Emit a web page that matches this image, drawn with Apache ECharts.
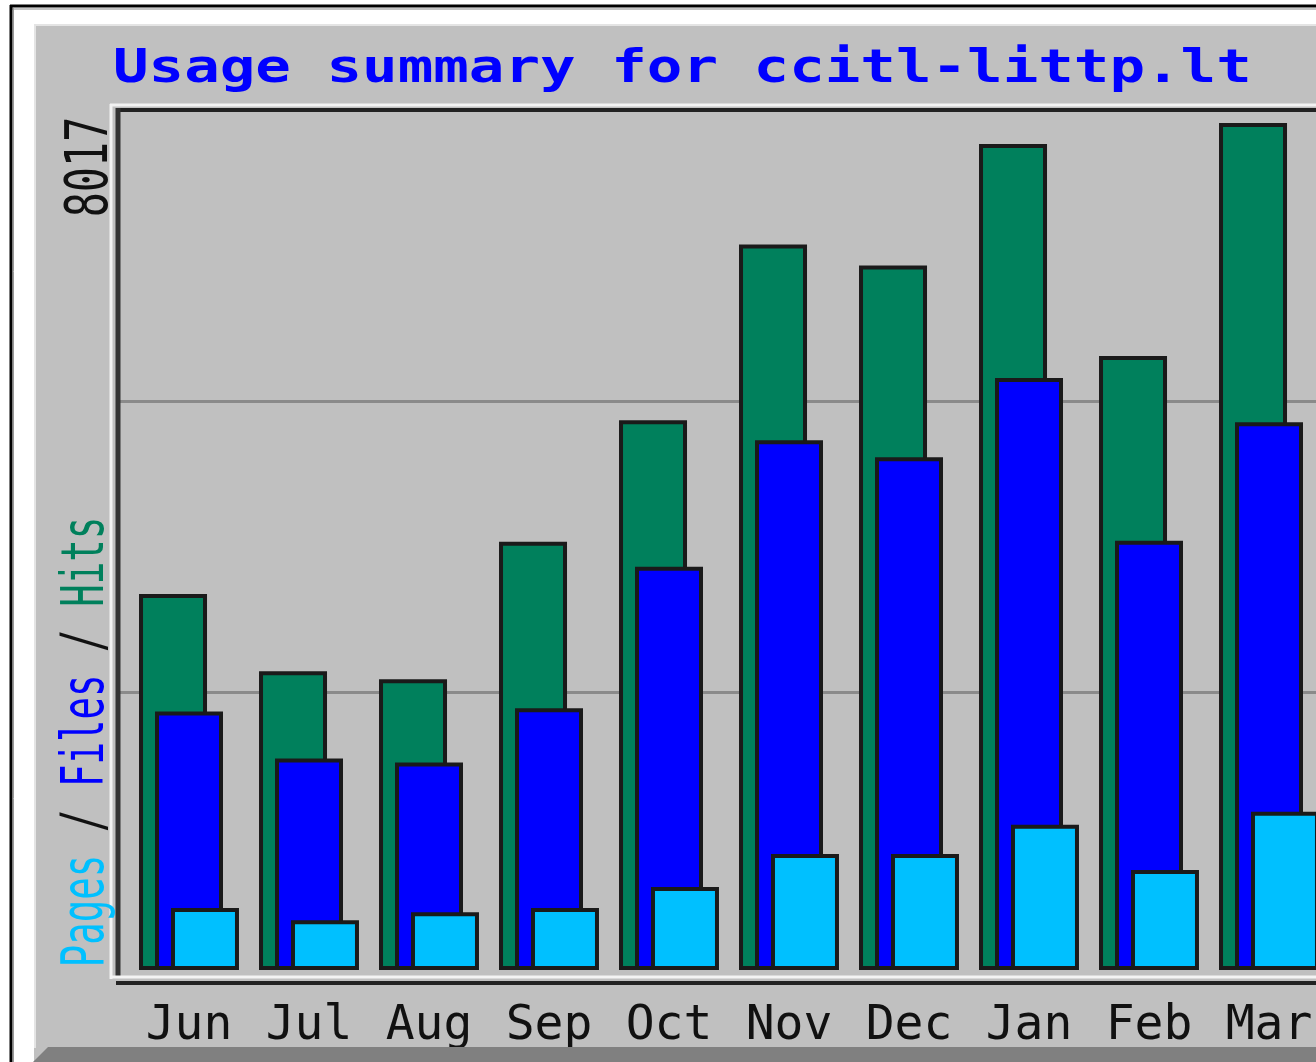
<!DOCTYPE html>
<html lang="en">
<head>
<meta charset="UTF-8">
<title>Usage summary for ccitl-littp.lt</title>
<script src="https://cdn.jsdelivr.net/npm/echarts@6/dist/echarts.min.js"></script>
<style>
    html, body { margin: 0; padding: 0; background: #fff; }
    #chart { width: 1316px; height: 1062px; }
</style>
</head>
<body>
<div id="chart"></div>
<script>
    // monthly values
    var months = ['Jun', 'Jul', 'Aug', 'Sep', 'Oct', 'Nov', 'Dec', 'Jan', 'Feb', 'Mar'];
    var hits = [3559, 2827, 2751, 4053, 5203, 6867, 6667, 7817, 5812, 8017];
    var files = [2447, 2001, 1963, 2476, 3816, 5013, 4852, 5603, 4063, 5184];
    var pages = [585, 470, 546, 585, 784, 1098, 1098, 1373, 946, 1497];
    var titleText = 'Usage summary for ccitl-littp.lt';

    var hitsColor = '#00805c', filesColor = '#0000ff', pagesColor = '#00c0ff';
    var mono = '"DejaVu Sans Mono", "Liberation Mono", monospace';
    var maxHits = Math.max.apply(null, hits);

    function hline(y, x1, x2, w, c) {
        return {type: 'line', z: 100, silent: true,
            shape: {x1: x1, y1: y, x2: x2, y2: y}, style: {stroke: c, lineWidth: w}};
    }
    function vline(x, y1, y2, w, c) {
        return {type: 'line', z: 100, silent: true,
            shape: {x1: x, y1: y1, x2: x, y2: y2}, style: {stroke: c, lineWidth: w}};
    }

    var chart = echarts.init(document.getElementById('chart'));
    var barStyle = function (c) {
        return {color: c, borderColor: '#1a1a1a', borderWidth: 4};
    };

    chart.setOption({
        backgroundColor: '#c0c0c0',
        animation: false,
        grid: [
            {left: 129, top: 110, width: 1200, height: 873, outerBoundsMode: 'none', containLabel: false},
            {left: 119, top: 110, width: 1210, height: 873, outerBoundsMode: 'none', containLabel: false}
        ],
        xAxis: [
            {
                gridIndex: 0, type: 'category', data: months,
                axisLine: {show: false}, axisTick: {show: false},
                axisLabel: {interval: 0, margin: 20, color: '#111', fontFamily: mono, fontSize: 48, hideOverlap: false}
            },
            {gridIndex: 1, type: 'value', min: 0, max: 1, show: false}
        ],
        yAxis: [
            {
                gridIndex: 0, type: 'value', min: -124, max: 8140,
                axisLine: {show: false}, axisTick: {show: false},
                axisLabel: {show: false}, splitLine: {show: false}
            },
            {
                gridIndex: 1, type: 'value', min: 0, max: 3, interval: 1,
                axisLine: {show: false}, axisTick: {show: false}, axisLabel: {show: false},
                splitLine: {lineStyle: {color: '#8a8a8a', width: 3}}
            }
        ],
        series: [
            {name: 'Hits', type: 'bar', data: hits, barWidth: 68, barGap: '-76.5%', itemStyle: barStyle(hitsColor)},
            {name: 'Files', type: 'bar', data: files, barWidth: 68, barGap: '-76.5%', itemStyle: barStyle(filesColor)},
            {name: 'Pages', type: 'bar', data: pages, barWidth: 68, barGap: '-76.5%', itemStyle: barStyle(pagesColor)}
        ],
        graphic: [
            // white page margin and outer border
            {type: 'rect', z: 90, silent: true, shape: {x: 0, y: 0, width: 1316, height: 25}, style: {fill: '#fff'}},
            {type: 'rect', z: 90, silent: true, shape: {x: 0, y: 0, width: 34, height: 1062}, style: {fill: '#fff'}},
            hline(6, 10, 1316, 3, '#000'),
            hline(9, 12, 1316, 1, '#888'),
            vline(11, 5, 1062, 3, '#000'),
            vline(13.5, 8, 1062, 1, '#999'),
            hline(25, 34, 1316, 2, '#e4e4e4'),
            vline(35, 24, 1048, 2, '#e4e4e4'),
            {type: 'polygon', z: 100, silent: true,
                shape: {points: [[33, 1062], [48, 1047], [1316, 1047], [1316, 1062]]}, style: {fill: '#808080'}},
            // sunken frame of the plot
            hline(105, 110, 1316, 3, '#f2f2f2'),
            vline(111, 104, 979, 3, '#f2f2f2'),
            hline(110, 116, 1316, 4, '#222'),
            vline(118, 108, 978, 5, '#333'),
            hline(977, 110, 1316, 3, '#f4f4f4'),
            hline(983, 116, 1316, 4, '#222'),
            // title
            {type: 'text', z: 110, x: 113, y: 70, scaleX: 1.285,
                style: {text: titleText, fill: '#0000ff', font: 'bold 46px ' + mono,
                    textAlign: 'left', textVerticalAlign: 'middle'}},
            // max value, rotated
            {type: 'text', z: 110, x: 92, y: 167, rotation: Math.PI / 2, scaleX: 0.72,
                style: {text: String(maxHits), fill: '#111', font: '58px ' + mono,
                    textAlign: 'center', textVerticalAlign: 'middle'}},
            // legend, rotated
            {type: 'text', z: 110, x: 88, y: 742, rotation: Math.PI / 2, scaleX: 0.645,
                style: {
                    text: '{p|Pages} {k|/} {f|Files} {k|/} {h|Hits}',
                    font: '58px ' + mono, fill: '#111',
                    textAlign: 'center', textVerticalAlign: 'middle',
                    rich: {
                        p: {fill: pagesColor, font: '58px ' + mono},
                        k: {fill: '#111', font: '58px ' + mono},
                        f: {fill: filesColor, font: '58px ' + mono},
                        h: {fill: hitsColor, font: '58px ' + mono}
                    }
                }}
        ]
    });
</script>
</body>
</html>
